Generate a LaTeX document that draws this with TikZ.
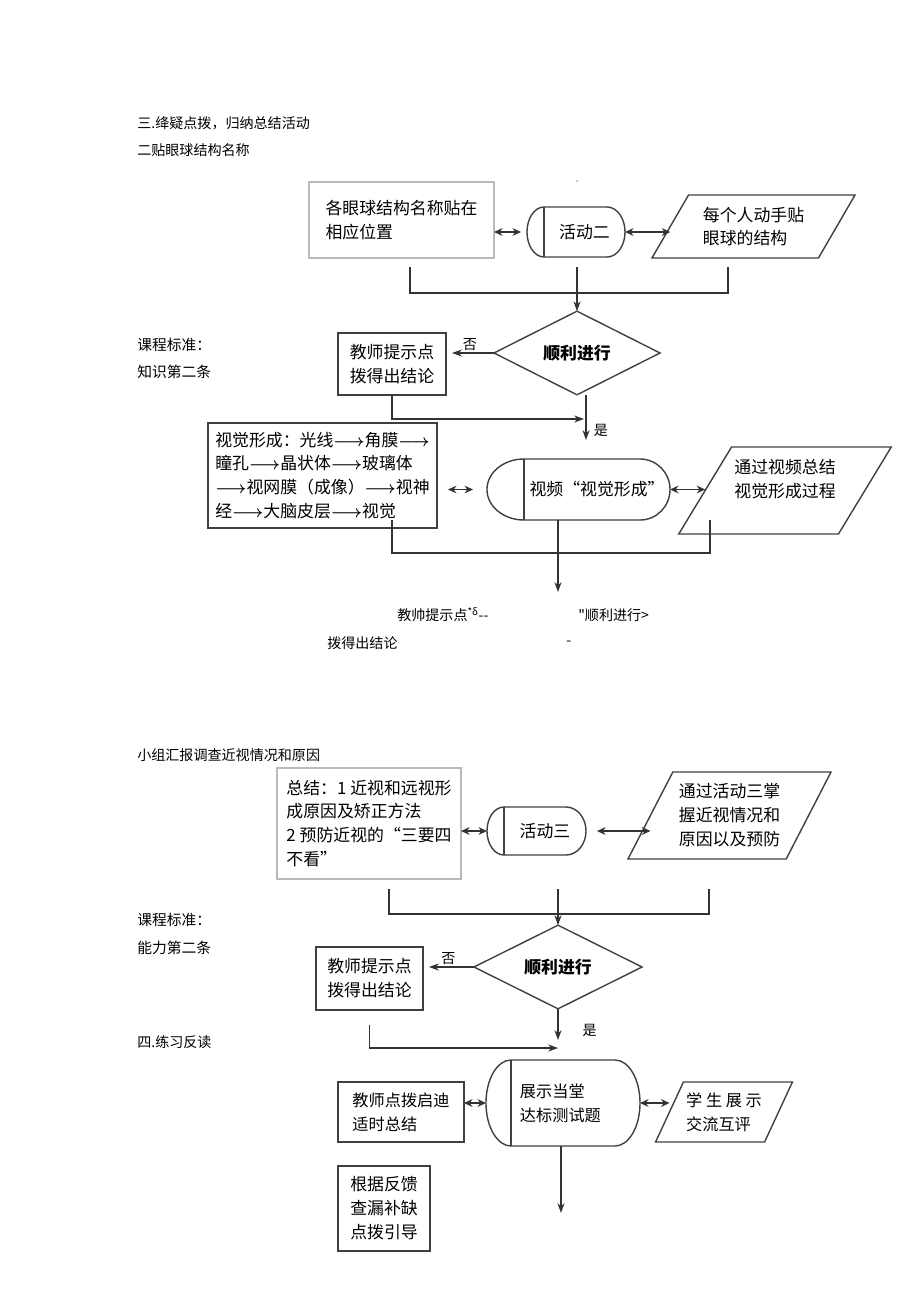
\documentclass[tikz,border=0pt]{standalone}
\usepackage{fontspec}
\setmainfont{Noto Sans CJK SC}
\newfontfamily\rawfont{Noto Sans CJK SC}
\newcommand\lra{\mbox{\boldmath$\longrightarrow$}}
\usetikzlibrary{arrows.meta,shapes.geometric}
\tikzset{
	txt/.style={font=\fontsize{12}{17}\selectfont},
	smalltxt/.style={font=\fontsize{11.5}{17}\selectfont},
	head/.style={font=\fontsize{10}{12}\selectfont, anchor=west, inner sep=0pt},
	std/.style={font=\fontsize{10.5}{12}\selectfont, anchor=west, inner sep=0pt},
	lightbox/.style={txt, draw=gray!55, line width=1pt, align=left, outer sep=0pt},
	midbox/.style={txt, draw=gray!50!black, line width=1pt, align=left, outer sep=0pt},
	darkbox/.style={txt, draw=black!75, line width=1.3pt, align=center, outer sep=0pt},
	stad/.style={txt, inner sep=0pt, outer sep=0pt},
	shp/.style={draw=gray!50!black, line width=1pt},
	para/.style={txt, trapezium, trapezium stretches body, draw=gray!50!black, line width=1pt, align=left, inner sep=2pt, outer sep=0pt},
	dec/.style={diamond, draw=gray!50!black, line width=1pt, font=\fontsize{12}{14}\selectfont\bfseries, inner sep=0pt, outer sep=0pt},
	conn/.style={draw=black!80, line width=1.1pt},
	arr/.style={conn, -{Stealth[length=7pt,width=5pt]}},
	dbl/.style={conn, {Stealth[length=6pt,width=5.5pt]}-{Stealth[length=6pt,width=5.5pt]}},
	lbl/.style={font=\fontsize{10}{12}\selectfont, inner sep=1pt}
}
\begin{document}
\begin{tikzpicture}[x=0.025cm, y=-0.025cm]
	\useasboundingbox (0,0) rectangle (920,1301);
	\node[head] (h1) at (137,123) {三.绛疑点拨，归纳总结活动};
	\node[head] (h2) at (137,150) {二贴眼球结构名称};
	\node[font=\tiny, inner sep=0pt] (dot1) at (577,182) {-};
	\node[std] (s1) at (137,345) {课程标准：};
	\node[std] (s2) at (137,372) {知识第二条};

	\node[lightbox, minimum width=4.625cm, minimum height=1.9cm] (b1) at (401.5,220) {各眼球结构名称贴在\\相应位置};
	\node[stad, minimum width=2.025cm, minimum height=1.25cm] (a2) at (584.5,232) {活动二};
	\draw[shp] (a2.north west) -- ([xshift=-0.45cm]a2.north east) arc[start angle=90, end angle=-90, x radius=0.45cm, y radius=0.625cm] -- (a2.south west) arc[start angle=270, end angle=90, x radius=0.425cm, y radius=0.625cm] -- cycle;
	\draw[shp] (a2.north west) -- (a2.south west);
	\node[para, minimum width=5.075cm, minimum height=1.575cm, trapezium left angle=51, trapezium right angle=129] (p1) at (753.5,226.5) {每个人动手贴\\眼球的结构};
	\node[dec, minimum width=4.15cm, minimum height=1.5cm] (d1) at (577,353) {顺利进行};
	\node[darkbox, minimum width=2.7cm, minimum height=1.55cm] (t1) at (392,364) {教师提示点\\拨得出结论};
	\coordinate (b1foot) at (410,267);
	\coordinate (p1foot) at (728,267);
	\coordinate (a2foot) at (577,267);
	\coordinate (k1) at (577,293);
	\coordinate (c1) at (584,419);
	\coordinate (e1) at (586,440);
	\draw[dbl, shorten >=0.15cm] (b1.east |- a2.west) -- ([xshift=-0.425cm]a2.west);
	\draw[dbl] (a2.east) -- (a2.east -| p1.west);
	\draw[conn] (b1foot) |- (k1) -| (p1foot);
	\draw[arr] (a2foot) -- (d1.north);
	\draw[arr, shorten >=0.15cm] (d1.west) -- node[lbl, above] (no1) {否} (d1.west -| t1.east);
	\draw[arr] (t1.south) |- (c1);
	\draw[arr] (d1.south -| e1) -- node[lbl, right, pos=0.78, xshift=4pt] (yes1) {是} (e1);

	\node[midbox, minimum width=5.725cm, minimum height=2.625cm] (v1) at (322.5,475.5) {视觉形成：光线\lra 角膜\lra\\瞳孔\lra 晶状体\lra 玻璃体\\\lra 视网膜（成像）\lra 视神\\经\lra 大脑皮层\lra 视觉};
	\node[stad, minimum width=3.65cm, minimum height=1.525cm] (a3) at (597,489.5) {视频“视觉形成”};
	\draw[shp] (a3.north west) -- ([xshift=-0.75cm]a3.north east) arc[start angle=90, end angle=-90, x radius=0.75cm, y radius=0.7625cm] -- (a3.south west) arc[start angle=270, end angle=90, x radius=0.925cm, y radius=0.7625cm] -- cycle;
	\draw[shp] (a3.north west) -- (a3.south west);
	\node[para, minimum width=5.1cm, minimum height=2.175cm, trapezium left angle=52, trapezium right angle=128] (p2) at (785,490.5) {通过视频总结\\视觉形成过程\\\mbox{}};
	\coordinate (v1foot) at (392,520);
	\coordinate (p2foot) at (710,520);
	\coordinate (k2) at (558,553);
	\coordinate (e2) at (558,592);
	\draw[dbl, shorten <=0.275cm, shorten >=0.35cm] (v1.east |- a3.west) -- ([xshift=-0.925cm]a3.west);
	\draw[dbl] (a3.east) -- (a3.east -| p2.west);
	\draw[conn] (v1foot) |- (k2) -| (p2foot);
	\draw[arr] (a3.south -| e2) -- (e2);

	\node[head] (j1) at (397,615) {教帅提示点\textsuperscript{*δ}-{}-};
	\node[head] (j2) at (578,615) {\rawfont "顺利进行>};
	\node[head] (j3) at (327,643) {拨得出结论};
	\node[head] (j4) at (566,643) {-};

	\node[head] (h3) at (137,755) {小组汇报调查近视情况和原因};
	\node[std] (s3) at (137,920) {课程标准：};
	\node[std] (s4) at (137,948) {能力第二条};
	\node[head] (h4) at (137,1042) {四.练习反读};

	\node[lightbox, minimum width=4.6cm, minimum height=2.775cm] (b3) at (369,823.5) {总结：1 近视和远视形\\成原因及矫正方法\\2 预防近视的“三要四\\不看”};
	\node[stad, minimum width=2.05cm, minimum height=1.2cm] (a4) at (545,831) {活动三};
	\draw[shp] (a4.north west) -- ([xshift=-0.5cm]a4.north east) arc[start angle=90, end angle=-90, x radius=0.5cm, y radius=0.6cm] -- (a4.south west) arc[start angle=270, end angle=90, x radius=0.425cm, y radius=0.6cm] -- cycle;
	\draw[shp] (a4.north west) -- (a4.south west);
	\node[para, minimum width=5.075cm, minimum height=2.175cm, trapezium left angle=57, trapezium right angle=123] (p3) at (729.5,815.5) {通过活动三掌\\握近视情况和\\原因以及预防};
	\node[dec, minimum width=4.2cm, minimum height=1.5cm] (d2) at (558,967) {顺利进行};
	\node[darkbox, minimum width=2.675cm, minimum height=1.575cm] (t2) at (369.5,978.5) {教师提示点\\拨得出结论};
	\coordinate (b3foot) at (389,889);
	\coordinate (p3foot) at (709,889);
	\coordinate (a4foot) at (558,889);
	\coordinate (k3) at (558,914);
	\coordinate (e3) at (558,1040);
	\coordinate (c3) at (558,1048);
	\draw[dbl] (b3.east |- a4.west) -- ([xshift=-0.425cm]a4.west);
	\draw[dbl, shorten <=0.275cm] (a4.east) -- (a4.east -| p3.west);
	\draw[conn] (b3foot) |- (k3) -| (p3foot);
	\draw[arr] (a4foot) -- (d2.north);
	\draw[arr, shorten >=0.15cm] (d2.west) -- node[lbl, above] (no2) {否} (d2.west -| t2.east);
	\draw[arr] (d2.south -| e3) -- node[lbl, right, pos=0.7, xshift=16pt] (yes2) {是} (e3);
	\draw[arr] ([yshift=-0.375cm]t2.south) |- (c3);

	\node[darkbox, smalltxt, align=left, minimum width=3.15cm, minimum height=1.5cm] (t3) at (401,1112) {教师点拨启迪\\适时总结};
	\node[stad, smalltxt, minimum width=3.225cm, minimum height=2.15cm, text width=2.775cm, align=left] (a5) at (575.5,1103) {展示当堂\\达标测试题};
	\draw[shp] (a5.north west) -- ([xshift=-0.625cm]a5.north east) arc[start angle=90, end angle=-90, x radius=0.625cm, y radius=1.075cm] -- (a5.south west) arc[start angle=270, end angle=90, x radius=0.625cm, y radius=1.075cm] -- cycle;
	\draw[shp] (a5.north west) -- (a5.south west);
	\node[para, smalltxt, minimum width=3.3cm, minimum height=1.5cm, trapezium left angle=58, trapezium right angle=122] (p4) at (724,1112) {学 生 展 示\\交流互评};
	\node[darkbox, minimum width=2.3cm, minimum height=2.125cm] (t4) at (384,1208.5) {根据反馈\\查漏补缺\\点拨引导};
	\coordinate (e4) at (561,1213);
	\draw[dbl] (t3.east |- a5.west) -- ([xshift=-0.625cm]a5.west);
	\draw[dbl] (a5.east) -- (a5.east -| p4.west);
	\draw[arr] (a5.south -| e4) -- (e4);
\end{tikzpicture}
\end{document}
